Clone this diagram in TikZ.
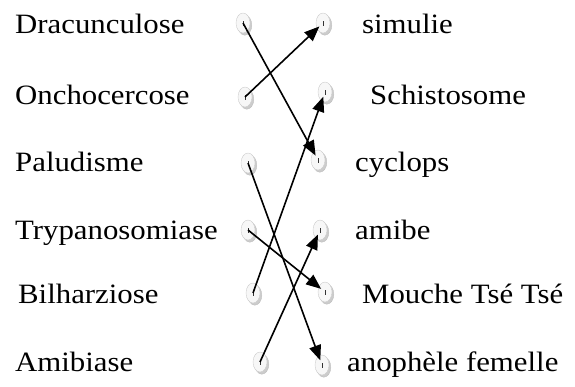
\documentclass[tikz,border=0pt]{standalone}
\usepackage{fontspec}
\setmainfont[FakeStretch=1.1]{Liberation Serif}
\usepackage{tikz}
\usetikzlibrary{arrows.meta,shapes.geometric,shadows}
\tikzset{
  pin/.style={ellipse,draw=gray!40,fill=gray!6,minimum width=14pt,minimum height=20pt,inner sep=0pt,
    copy shadow={shadow xshift=1.8pt,shadow yshift=-2.2pt,fill=gray!40,draw=gray!50},
    path picture={\draw[line width=0.9pt,black!80] ([yshift=-2.5pt]path picture bounding box.center) -- ++(0,5pt);}},
  lbl/.style={anchor=base west,inner sep=0pt,font=\fontsize{28}{32}\selectfont},
  arr/.style={-{Triangle[length=15pt,width=12pt]},line width=1.6pt,shorten >=5pt},
}
\begin{document}
\begin{tikzpicture}[x=1pt,y=-1pt]
  \useasboundingbox (0,0) rectangle (575,386);
  % maladies
  \node[lbl] (m1) at (15,33) {Dracunculose};
  \node[lbl] (m2) at (15,104) {Onchocercose};
  \node[lbl] (m3) at (15,171) {Paludisme};
  \node[lbl] (m4) at (15,239) {Trypanosomiase};
  \node[lbl] (m5) at (18,303) {Bilharziose};
  \node[lbl] (m6) at (15,371) {Amibiase};
  % vecteurs
  \node[lbl] (v1) at (362,33) {simulie};
  \node[lbl] (v2) at (370,104) {Schistosome};
  \node[lbl] (v3) at (355,171) {cyclops};
  \node[lbl] (v4) at (355,239) {amibe};
  \node[lbl] (v5) at (362,303) {Mouche Tsé Tsé};
  \node[lbl] (v6) at (347,371) {anophèle femelle};
  % points
  \node[pin] (a1) at (243,23) {};
  \node[pin] (a2) at (245,97) {};
  \node[pin] (a3) at (248,163) {};
  \node[pin] (a4) at (248,230) {};
  \node[pin] (a5) at (253,293) {};
  \node[pin] (a6) at (260,362) {};
  \node[pin] (b1) at (323,23) {};
  \node[pin] (b2) at (325,92) {};
  \node[pin] (b3) at (318,160) {};
  \node[pin] (b4) at (320,230) {};
  \node[pin] (b5) at (325,292) {};
  \node[pin] (b6) at (322,365) {};
  % fleches
  \draw[arr] (a1.center) -- (b3.center);
  \draw[arr] (a2.center) -- (b1.center);
  \draw[arr] (a3.center) -- (b6.center);
  \draw[arr] (a4.center) -- (b5.center);
  \draw[arr] (a5.center) -- (b2.center);
  \draw[arr] (a6.center) -- (b4.center);
\end{tikzpicture}
\end{document}
